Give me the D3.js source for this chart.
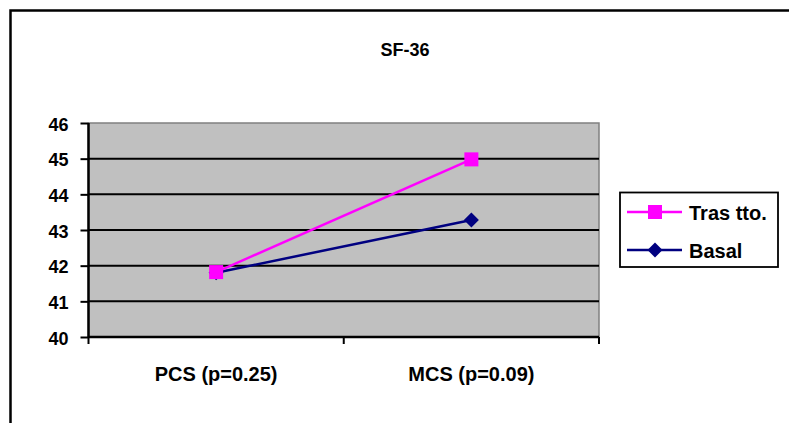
<!DOCTYPE html>
<html>
<head>
<meta charset="utf-8">
<script src="https://cdn.jsdelivr.net/npm/d3@7"></script>
<style>
  body { margin: 0; background: #fff; }
  text { font-family: "Liberation Sans", Arial, sans-serif; font-weight: bold; fill: #000; }
</style>
</head>
<body>
<div id="chart"></div>
<script>
const categories = ['PCS (p=0.25)', 'MCS (p=0.09)'];
const trasTto = [41.82, 44.98];
const basal = [41.8, 43.28];
const yTicks = [40, 41, 42, 43, 44, 45, 46];
const seriesNames = ['Tras tto.', 'Basal'];

const width = 789,
  height = 423;
const plot = { left: 88.5, right: 599, top: 123, bottom: 337 };

const svg = d3
  .select('#chart')
  .append('svg')
  .attr('width', width)
  .attr('height', height);

// outer frame (runs off the right and bottom edge)
svg
  .append('rect')
  .attr('x', 10.5)
  .attr('y', 10.5)
  .attr('width', 900)
  .attr('height', 600)
  .attr('fill', 'none')
  .attr('stroke', '#000')
  .attr('stroke-width', 2.5);

let x = d3
  .scalePoint()
  .domain(categories)
  .range([plot.left, plot.right])
  .padding(0.5);
let y = d3.scaleLinear().domain([40, 46]).range([plot.bottom, plot.top]);

// plot background
svg
  .append('rect')
  .attr('x', plot.left)
  .attr('y', plot.top)
  .attr('width', plot.right - plot.left)
  .attr('height', plot.bottom - plot.top)
  .attr('fill', '#c0c0c0')
  .attr('stroke', '#808080')
  .attr('stroke-width', 1.5);

// gridlines
svg
  .append('g')
  .selectAll('line')
  .data(yTicks.filter((d) => d > 40 && d < 46))
  .enter()
  .append('line')
  .attr('x1', plot.left)
  .attr('x2', plot.right)
  .attr('y1', (d) => y(d))
  .attr('y2', (d) => y(d))
  .attr('stroke', '#000')
  .attr('stroke-width', 2);

// y axis
let yAxis = (g) =>
  g
    .attr('transform', `translate(${plot.left},0)`)
    .call(d3.axisLeft(y).tickValues(yTicks).tickSize(8).tickPadding(12).tickFormat(d3.format('d')))
    .call((g) => g.select('.domain').attr('stroke-width', 2.5).attr('d', `M0,${plot.top}V${plot.bottom}`))
    .call((g) => g.selectAll('.tick line').attr('stroke-width', 2))
    .call((g) =>
      g
        .selectAll('.tick text')
        .attr('font-size', 18)
        .attr('font-family', null)
        .attr('dy', '0.4em')
    );
svg.append('g').call(yAxis);

// x axis: ticks sit on the category boundaries
let band = (plot.right - plot.left) / categories.length;
let xAxis = (g) =>
  g
    .attr('transform', `translate(0,${plot.bottom})`)
    .call((g) =>
      g
        .append('line')
        .attr('x1', plot.left)
        .attr('x2', plot.right)
        .attr('stroke', '#000')
        .attr('stroke-width', 2.5)
    )
    .call((g) =>
      g
        .selectAll('.xtick')
        .data(d3.range(categories.length + 1))
        .enter()
        .append('line')
        .attr('x1', (i) => plot.left + i * band)
        .attr('x2', (i) => plot.left + i * band)
        .attr('y1', 0)
        .attr('y2', 7)
        .attr('stroke', '#000')
        .attr('stroke-width', 2)
    )
    .call((g) =>
      g
        .selectAll('.xlabel')
        .data(categories)
        .enter()
        .append('text')
        .attr('x', (d) => x(d))
        .attr('y', 44)
        .attr('text-anchor', 'middle')
        .attr('font-size', 20)
        .text((d) => d)
    );
svg.append('g').call(xAxis);

// lines
let line = d3
  .line()
  .x((d, i) => x(categories[i]))
  .y((d) => y(d));

svg
  .append('path')
  .datum(basal)
  .attr('fill', 'none')
  .attr('stroke', '#000080')
  .attr('stroke-width', 2.5)
  .attr('d', line);

svg
  .append('path')
  .datum(trasTto)
  .attr('fill', 'none')
  .attr('stroke', '#ff00ff')
  .attr('stroke-width', 2.5)
  .attr('d', line);

// markers
svg
  .append('g')
  .selectAll('path')
  .data(basal)
  .enter()
  .append('path')
  .attr('transform', (d, i) => `translate(${x(categories[i])},${y(d)}) rotate(45)`)
  .attr('d', 'M-5.3,-5.3H5.3V5.3H-5.3Z')
  .attr('fill', '#000080');

svg
  .append('g')
  .selectAll('rect')
  .data(trasTto)
  .enter()
  .append('rect')
  .attr('x', (d, i) => x(categories[i]) - 7)
  .attr('y', (d) => y(d) - 7)
  .attr('width', 14)
  .attr('height', 14)
  .attr('fill', '#ff00ff');

// title
svg
  .append('text')
  .attr('x', 405)
  .attr('y', 56)
  .attr('text-anchor', 'middle')
  .attr('font-size', 18)
  .text('SF-36');

// legend
const legend = svg.append('g');
legend
  .append('rect')
  .attr('x', 620)
  .attr('y', 192.5)
  .attr('width', 158)
  .attr('height', 74.5)
  .attr('fill', '#fff')
  .attr('stroke', '#000')
  .attr('stroke-width', 1.8);

const legendColors = ['#ff00ff', '#000080'];
const legendY = [212, 250];
seriesNames.forEach((name, i) => {
  legend
    .append('line')
    .attr('x1', 627)
    .attr('x2', 682)
    .attr('y1', legendY[i])
    .attr('y2', legendY[i])
    .attr('stroke', legendColors[i])
    .attr('stroke-width', 2.5);
  if (i === 0) {
    legend
      .append('rect')
      .attr('x', 648)
      .attr('y', legendY[i] - 7)
      .attr('width', 14)
      .attr('height', 14)
      .attr('fill', legendColors[i]);
  } else {
    legend
      .append('path')
      .attr('transform', `translate(655,${legendY[i]}) rotate(45)`)
      .attr('d', 'M-5.3,-5.3H5.3V5.3H-5.3Z')
      .attr('fill', legendColors[i]);
  }
  legend
    .append('text')
    .attr('x', 689)
    .attr('y', legendY[i] + 8)
    .attr('font-size', 20)
    .text(name);
});
</script>
</body>
</html>
